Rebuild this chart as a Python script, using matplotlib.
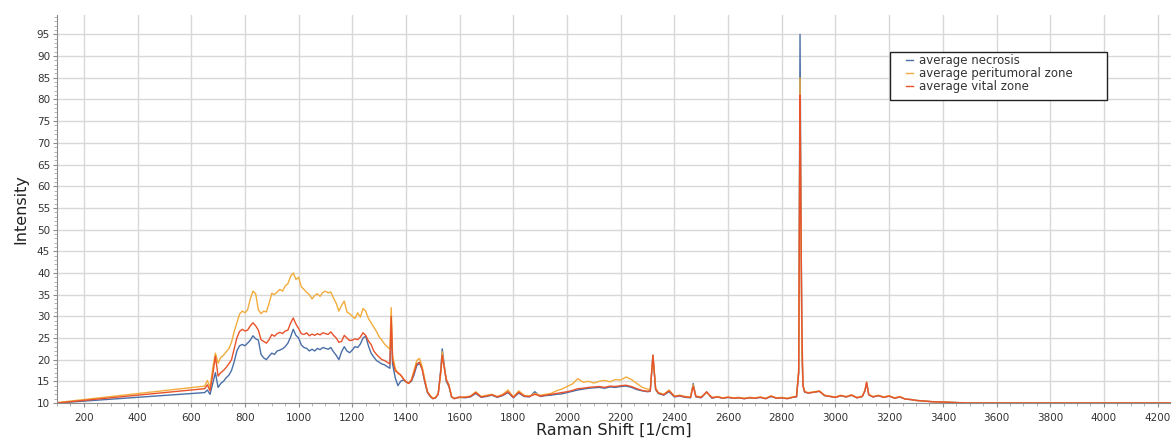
import matplotlib
matplotlib.use("Agg")
import matplotlib.pyplot as plt
from matplotlib.patches import Rectangle
from matplotlib.ticker import MultipleLocator

# Raman shift [1/cm], shared by the three averaged spectra
shift = [100, 650, 660, 670, 680, 690, 700, 710, 720, 730, 740, 750, 760, 770, 780, 790,
         800, 810, 820, 830, 840, 850, 860, 870, 880, 890, 900, 910, 920, 930, 940, 950,
         960, 970, 980, 990, 1000, 1010, 1020, 1030, 1040, 1050, 1060, 1070, 1080, 1090,
         1100, 1110, 1120, 1130, 1140, 1150, 1160, 1170, 1180, 1190, 1200, 1210, 1220,
         1230, 1240, 1250, 1260, 1270, 1280, 1290, 1300, 1310, 1320, 1330, 1340, 1345,
         1350, 1360, 1370, 1380, 1390, 1400, 1410, 1420, 1430, 1440, 1450, 1460, 1470,
         1480, 1490, 1500, 1510, 1520, 1530, 1535, 1540, 1550, 1560, 1570, 1580, 1590,
         1600, 1620, 1640, 1660, 1680, 1700, 1720, 1740, 1760, 1780, 1800, 1820, 1840,
         1860, 1880, 1900, 1920, 1940, 1960, 1980, 2000, 2020, 2040, 2060, 2080, 2100,
         2120, 2140, 2160, 2180, 2200, 2220, 2240, 2260, 2280, 2300, 2310, 2320, 2330,
         2340, 2360, 2380, 2400, 2420, 2440, 2460, 2470, 2480, 2500, 2520, 2540, 2560,
         2580, 2600, 2620, 2640, 2660, 2680, 2700, 2720, 2740, 2760, 2780, 2800, 2820,
         2840, 2855, 2863, 2868, 2871, 2875, 2879, 2885, 2892, 2900, 2920, 2940, 2960,
         2980, 3000, 3020, 3040, 3060, 3080, 3100, 3110, 3116, 3124, 3140, 3160, 3180,
         3200, 3220, 3240, 3260, 3280, 3300, 3320, 3340, 3360, 3380, 3400, 3450, 3500,
         3600, 4250]

necrosis = [10.0, 12.4, 13.0, 12.0, 14.5, 17.0, 13.6, 14.5, 15.0, 15.8, 16.4, 17.5, 19.5,
            22.0, 23.2, 23.5, 23.2, 23.8, 24.5, 25.5, 24.8, 24.5, 21.2, 20.4, 20.0, 20.8,
            21.5, 21.2, 22.0, 22.2, 22.5, 23.0, 23.8, 25.2, 27.0, 25.6, 25.0, 23.4, 22.8,
            22.6, 22.0, 22.4, 22.0, 22.6, 22.3, 22.8, 22.6, 22.4, 22.8, 21.8, 21.0, 20.0,
            21.8, 23.0, 22.0, 21.6, 22.2, 23.0, 22.8, 23.6, 25.0, 25.4, 23.2, 21.5, 20.6,
            19.8, 19.4, 19.0, 18.8, 18.4, 18.0, 28.5, 19.0, 15.8, 14.0, 15.0, 15.3, 14.9,
            14.6, 15.0, 16.5, 18.6, 19.2, 18.0, 14.8, 12.4, 11.5, 11.0, 11.2, 12.1, 18.0,
            22.5, 20.0, 15.0, 13.8, 11.4, 11.0, 11.2, 11.3,
            11.2, 11.4, 12.2, 11.3, 11.5, 11.8, 11.3, 11.7, 12.4, 11.2, 12.3, 11.5, 11.4,
            12.6, 11.5, 11.7, 11.8, 12.0, 12.1, 12.4, 12.7, 13.0, 13.2, 13.4, 13.5, 13.6,
            13.4, 13.7, 13.6, 13.8, 13.9, 13.6, 13.1, 12.8, 12.6, 12.7, 21.0, 13.1, 12.2,
            11.8, 12.6, 11.4, 11.6, 11.3, 11.2, 14.5, 11.4, 11.2, 12.5, 11.1, 11.4, 11.1,
            11.3, 11.1, 11.2, 11.0, 11.2, 11.1, 11.3, 11.0, 11.5, 11.1, 11.2, 11.0, 11.3,
            11.4, 17.0, 95.0, 60.0, 22.0, 14.0, 12.5, 12.4, 12.3, 12.5, 12.7, 11.7, 11.5,
            11.3, 11.7, 11.4, 11.8, 11.2, 11.5, 12.8, 14.6, 11.9, 11.4, 11.7, 11.3, 11.6,
            11.1, 11.4, 10.9, 10.8, 10.6, 10.5, 10.4, 10.3, 10.25, 10.2, 10.1, 10.0, 10.0,
            10.0]

peritumoral = [10.1, 13.9, 15.2, 13.6, 18.0, 21.5, 19.2, 20.5, 21.0, 21.8, 22.5, 24.0,
               26.5, 28.5, 30.5, 31.2, 30.8, 31.5, 34.0, 35.8, 35.2, 31.5, 30.6, 31.2, 31.0,
               33.0, 35.3, 35.0, 35.6, 36.2, 35.8, 37.0, 37.5, 39.2, 40.0, 38.5, 39.0, 36.8,
               36.2, 35.5, 35.0, 34.0, 34.8, 35.2, 34.6, 35.5, 35.8, 35.4, 35.6, 34.2, 33.0,
               31.2, 32.5, 33.5, 31.0, 30.6, 30.0, 29.5, 30.8, 29.8, 31.8, 31.2, 29.5, 28.5,
               27.5, 26.5, 25.3, 24.5, 23.6, 23.0, 22.4, 32.0, 21.0, 18.0, 16.8, 16.4, 15.6,
               14.9, 14.6, 15.4, 17.5, 19.8, 20.3, 18.5, 15.5, 12.6, 11.8, 11.1, 11.3, 12.2,
               17.0, 21.8, 19.5, 15.3, 14.2, 11.5, 11.1, 11.3, 11.2,
               11.4, 11.6, 12.6, 11.5, 11.8, 12.0, 11.5, 12.0, 13.0, 11.4, 12.8, 11.8, 11.6,
               12.2, 11.8, 12.0, 12.2, 12.8, 13.2, 13.8, 14.4, 15.6, 14.8, 15.0, 14.6, 15.0,
               15.2, 14.9, 15.4, 15.3, 16.0, 15.4, 14.5, 13.6, 13.2, 13.0, 21.0, 13.5, 12.4,
               12.0, 13.0, 11.6, 11.8, 11.5, 11.4, 14.2, 11.6, 11.4, 12.4, 11.3, 11.5, 11.2,
               11.4, 11.2, 11.3, 11.1, 11.3, 11.2, 11.4, 11.1, 11.6, 11.2, 11.3, 11.1, 11.4,
               11.6, 18.0, 85.0, 55.0, 22.0, 14.0, 12.8, 12.5, 12.4, 12.6, 12.8, 11.8, 11.6,
               11.4, 11.8, 11.5, 11.9, 11.3, 11.6, 13.0, 14.8, 12.0, 11.5, 11.8, 11.4, 11.7,
               11.2, 11.5, 10.9, 10.8, 10.6, 10.5, 10.4, 10.3, 10.25, 10.2, 10.1, 10.0, 10.0,
               10.0]

vital = [10.0, 13.3, 14.2, 12.8, 16.5, 20.8, 16.2, 17.0, 17.5, 18.2, 19.0, 20.0, 22.5, 25.0,
         26.5, 27.0, 26.6, 26.8, 27.8, 28.5, 27.8, 26.8, 24.6, 24.2, 23.8, 24.6, 25.8, 25.4,
         26.0, 26.3, 26.0, 26.6, 26.8, 28.4, 29.6, 28.2, 27.2, 26.0, 25.8, 26.2, 25.5, 25.9,
         25.6, 26.0, 25.7, 26.2, 26.0, 25.8, 26.4, 25.6, 25.0, 24.0, 24.2, 25.6, 25.0, 24.4,
         24.5, 24.8, 24.6, 25.2, 26.2, 25.6, 24.3, 23.5, 22.0, 21.2, 20.6, 20.0, 19.8, 19.4,
         19.0, 30.0, 20.0, 17.4, 17.0, 16.5, 15.6, 14.9, 14.5, 15.2, 17.0, 19.0, 19.4, 17.8,
         15.0, 12.6, 11.6, 11.0, 11.2, 12.0, 17.5, 21.0, 19.0, 15.5, 14.0, 11.4, 11.0, 11.2,
         11.4,
         11.3, 11.5, 12.4, 11.4, 11.6, 11.9, 11.4, 11.8, 12.6, 11.3, 12.5, 11.6, 11.5, 12.0,
         11.6, 11.8, 12.0, 12.2, 12.4, 12.6, 12.9, 13.3, 13.4, 13.6, 13.7, 13.8, 13.6, 13.9,
         13.8, 14.0, 14.1, 13.8, 13.3, 12.9, 12.7, 12.8, 21.0, 13.2, 12.3, 11.9, 12.8, 11.5,
         11.7, 11.4, 11.3, 13.8, 11.5, 11.3, 12.6, 11.2, 11.4, 11.1, 11.3, 11.1, 11.2, 11.0,
         11.2, 11.1, 11.3, 11.0, 11.6, 11.1, 11.2, 11.0, 11.3, 11.5, 17.0, 81.0, 55.0, 27.0,
         14.0, 12.6, 12.4, 12.3, 12.5, 12.7, 11.7, 11.5, 11.3, 11.7, 11.4, 11.8, 11.2, 11.5,
         12.9, 14.8, 11.9, 11.4, 11.7, 11.3, 11.6, 11.1, 11.4, 10.9, 10.8, 10.6, 10.5, 10.4,
         10.3, 10.25, 10.2, 10.1, 10.0, 10.0, 10.0]

labels = ["average necrosis", "average peritumoral zone", "average vital zone"]
colors = ["#4a6fa8", "#f2ac3c", "#e8532b"]

fig = plt.figure(figsize=(11.71, 4.43), dpi=100)
ax = fig.add_axes([0.0487, 0.0903, 0.9513, 0.876])

for ys, lab, c in zip([necrosis, peritumoral, vital], labels, colors):
    ax.plot(shift, ys, color=c, lw=1.0, label=lab)

ax.set_xlim(100, 4250)
ax.set_ylim(10, 99.5)
ax.xaxis.set_minor_locator(MultipleLocator(50))
ax.yaxis.set_minor_locator(MultipleLocator(1))
ax.set_xticks(range(200, 4201, 200))
ax.set_yticks(range(10, 96, 5))

ax.grid(True, which="major", color="#d8d8d8", lw=1.0)
ax.set_axisbelow(True)
for s in ["top", "right"]:
    ax.spines[s].set_visible(False)
for s in ["left", "bottom"]:
    ax.spines[s].set_color("#8c8c8c")
ax.tick_params(which="major", length=3, color="#8c8c8c", labelsize=7.5,
               labelcolor="#333333", pad=2)
ax.tick_params(which="minor", length=2, color="#a8a8a8")
ax.tick_params(axis="x", pad=4)

ax.set_xlabel("Raman Shift [1/cm]", fontsize=11.5, color="#222222", labelpad=0)
ax.set_ylabel("Intensity", fontsize=11.5, color="#222222", labelpad=6)

# legend: frameless entries inside a hand-sized box like the original
box = Rectangle((0.7478, 0.781), 0.1948, 0.1237, transform=ax.transAxes,
                facecolor="white", edgecolor="#222222", lw=1.0, zorder=4)
ax.add_patch(box)
leg = ax.legend(loc="upper left", bbox_to_anchor=(0.762, 0.9), fontsize=8.5,
                handlelength=0.6, handletextpad=0.5, labelspacing=0.0,
                borderpad=0, borderaxespad=0, frameon=False)
leg.set_zorder(5)
for t in leg.get_texts():
    t.set_color("#333333")

fig.savefig("out.png", dpi=100)
